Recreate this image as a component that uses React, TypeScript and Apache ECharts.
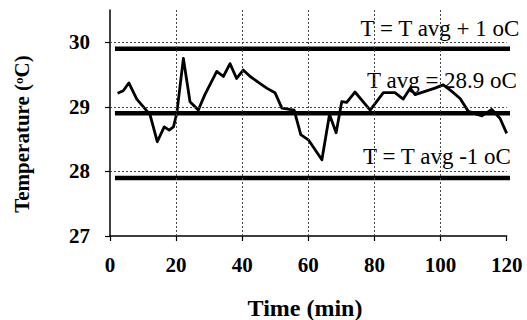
import React, { useEffect, useRef } from "react";
import * as echarts from "echarts";

const timeMin = [2.3, 4.0, 5.7, 8.1, 10.1, 12.1, 14.3, 16.4, 17.9, 19.2, 20.2, 22.2, 24.2, 26.7, 28.7, 32.3, 34.3, 36.3, 38.3, 40.3, 42.4, 44.9, 47.4, 49.9, 52.0, 54.3, 55.7, 57.7, 60.0, 64.1, 66.4, 68.4, 70.1, 71.6, 74.1, 78.7, 82.7, 86.2, 88.7, 90.8, 92.3, 95.3, 98.3, 100.8, 103.4, 105.9, 108.4, 112.5, 115.5, 118.0, 120.0];
const tempC = [29.21, 29.25, 29.37, 29.12, 29.0, 28.88, 28.46, 28.69, 28.64, 28.69, 28.9, 29.75, 29.08, 28.95, 29.19, 29.55, 29.47, 29.67, 29.44, 29.57, 29.47, 29.38, 29.29, 29.22, 28.98, 28.96, 28.95, 28.57, 28.49, 28.18, 28.88, 28.6, 29.08, 29.07, 29.23, 28.95, 29.22, 29.22, 29.12, 29.29, 29.19, 29.24, 29.29, 29.34, 29.24, 29.13, 28.93, 28.86, 28.96, 28.82, 28.59];

const tAvg = 28.9;
const limitLevels = [tAvg + 1, tAvg, tAvg - 1];
const limitSpan = [1.5, 121];
const yTicks = [27, 28, 29, 30];
const xGridValues = [20, 40, 60, 80, 100];
const yGridValues = [28, 29, 30];

const annotations = [
  { text: "T = T avg + 1 oC", cx: 440, cy: 28 },
  { text: "T avg = 28.9 oC", cx: 442, cy: 80 },
  { text: "T = T avg -1 oC", cx: 437, cy: 156 },
];

const SERIF = "'Liberation Serif', 'Times New Roman', serif";

export default function App() {
  const ref = useRef<HTMLDivElement>(null);
  useEffect(() => {
    if (!ref.current) return;
    document.body.style.margin = "0";
    const chart = echarts.init(ref.current, null, { renderer: "svg" });
    const lineData = timeMin.map((t, i) => [t, tempC[i]]);
    const gridStyle = { color: "#444", width: 1, type: [2, 2] as any };
    const option: any = {
      animation: false,
      backgroundColor: "#fff",
      grid: { left: 110, right: 20.3, top: 10, bottom: 84 },
      xAxis: {
        type: "value",
        min: 0,
        max: 120,
        interval: 20,
        axisLine: { show: true, lineStyle: { color: "#000", width: 1.5 } },
        axisTick: { show: true, length: 5, lineStyle: { color: "#000", width: 1.2 } },
        axisLabel: { color: "#000", fontFamily: SERIF, fontWeight: "bold", fontSize: 21, margin: 18 },
        splitLine: { show: false },
      },
      yAxis: {
        type: "value",
        min: 27,
        max: 30.5,
        interval: 1,
        axisLine: { show: true, lineStyle: { color: "#000", width: 1.5 } },
        axisTick: { show: true, length: 5, customValues: yTicks, lineStyle: { color: "#000", width: 1.2 } },
        axisLabel: {
          color: "#000",
          fontFamily: SERIF,
          fontWeight: "bold",
          fontSize: 21,
          margin: 20,
          customValues: yTicks,
        },
        splitLine: { show: false },
      },
      series: [
        {
          type: "line",
          data: [],
          silent: true,
          markLine: {
            silent: true,
            symbol: "none",
            label: { show: false },
            lineStyle: gridStyle,
            data: [
              ...yGridValues.map((v) => ({ yAxis: v })),
              ...xGridValues.map((v) => ({ xAxis: v })),
            ],
          },
        },
        ...limitLevels.map((lv) => ({
          type: "line",
          data: limitSpan.map((x) => [x, lv]),
          symbol: "none",
          clip: false,
          silent: true,
          lineStyle: { color: "#000", width: 4.5 },
        })),
        {
          type: "line",
          data: lineData,
          symbol: "none",
          silent: true,
          clip: false,
          lineStyle: { color: "#000", width: 2.8, join: "round" },
        },
      ],
      graphic: [
        ...annotations.map((a) => ({
          type: "text",
          x: a.cx,
          y: a.cy,
          silent: true,
          style: {
            text: a.text,
            fill: "#000",
            font: `23px ${SERIF}`,
            align: "center",
            verticalAlign: "middle",
          },
        })),
        {
          type: "text",
          x: 305,
          y: 308,
          silent: true,
          style: {
            text: "Time (min)",
            fill: "#000",
            font: `bold 24px ${SERIF}`,
            align: "center",
            verticalAlign: "middle",
          },
        },
        {
          type: "text",
          x: 22,
          y: 134,
          rotation: Math.PI / 2,
          silent: true,
          style: {
            text: "{n|Temperature (}{s|o}{n|C)}",
            fill: "#000",
            align: "center",
            verticalAlign: "middle",
            rich: {
              n: { fontFamily: SERIF, fontWeight: "bold", fontSize: 21, fill: "#000" },
              s: { fontFamily: SERIF, fontWeight: "bold", fontSize: 13, fill: "#000", verticalAlign: "top", padding: [0, 0, 8, 0] },
            },
          },
        },
      ],
    };
    chart.setOption(option);
    return () => chart.dispose();
  }, []);
  return <div ref={ref} style={{ width: 527, height: 320 }} />;
}
